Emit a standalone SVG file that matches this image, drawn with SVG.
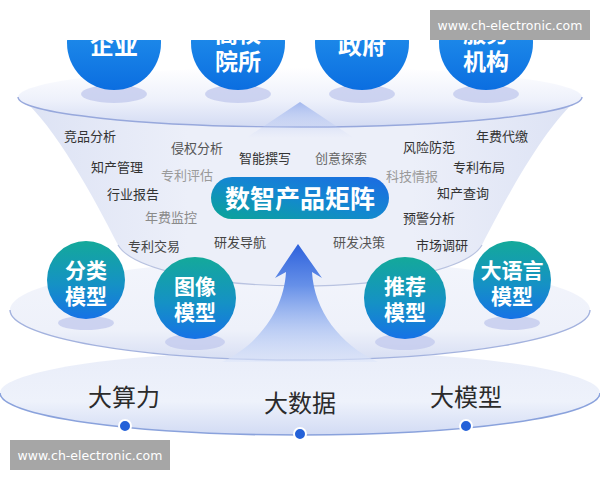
<svg xmlns="http://www.w3.org/2000/svg" width="600" height="480" viewBox="0 0 600 480">
  <defs>
    <linearGradient id="gTopDisc" x1="0" y1="0" x2="0" y2="1">
      <stop offset="0" stop-color="#ffffff"/>
      <stop offset="0.55" stop-color="#eef1fb"/>
      <stop offset="1" stop-color="#d3dbf3"/>
    </linearGradient>
    <linearGradient id="gFunnel" x1="0" y1="0" x2="1" y2="0">
      <stop offset="0" stop-color="#dce2f4"/>
      <stop offset="0.3" stop-color="#eceff9"/>
      <stop offset="0.7" stop-color="#eceff9"/>
      <stop offset="1" stop-color="#dce2f4"/>
    </linearGradient>
    <linearGradient id="gModelDisc" x1="0" y1="0" x2="0" y2="1">
      <stop offset="0" stop-color="#f3f5fc"/>
      <stop offset="0.7" stop-color="#eef1fa"/>
      <stop offset="1" stop-color="#d7def3"/>
    </linearGradient>
    <linearGradient id="gBaseDisc" x1="0" y1="0" x2="0" y2="1">
      <stop offset="0" stop-color="#e9edf9"/>
      <stop offset="0.6" stop-color="#eef2fb"/>
      <stop offset="1" stop-color="#d2dbf4"/>
    </linearGradient>
    <linearGradient id="gBlue" x1="0" y1="0" x2="0" y2="1">
      <stop offset="0" stop-color="#2a9cf0"/>
      <stop offset="1" stop-color="#0b6ee0"/>
    </linearGradient>
    <linearGradient id="gTeal" x1="0" y1="0" x2="0" y2="1">
      <stop offset="0" stop-color="#14a99a"/>
      <stop offset="0.55" stop-color="#1592c4"/>
      <stop offset="1" stop-color="#1672e6"/>
    </linearGradient>
    <linearGradient id="gPill" x1="0" y1="1" x2="1" y2="0">
      <stop offset="0" stop-color="#0aa596"/>
      <stop offset="0.5" stop-color="#1388d0"/>
      <stop offset="1" stop-color="#1c6ae2"/>
    </linearGradient>
    <linearGradient id="gArrow" x1="0" y1="244" x2="0" y2="362" gradientUnits="userSpaceOnUse">
      <stop offset="0" stop-color="#2d61dc"/>
      <stop offset="0.35" stop-color="#6690e8"/>
      <stop offset="1" stop-color="#dfe7fa" stop-opacity="0.6"/>
    </linearGradient>
    <linearGradient id="gChevron" x1="0" y1="0" x2="0" y2="1">
      <stop offset="0" stop-color="#9fb5ee" stop-opacity="0.95"/>
      <stop offset="1" stop-color="#c9d5f5" stop-opacity="0"/>
    </linearGradient>
    <clipPath id="clipTop">
      <rect x="0" y="40" width="600" height="440"/>
    </clipPath>
  </defs>
  <style>
    .lbl { font-family: "Noto Sans CJK SC", "Noto Sans", sans-serif; font-size: 13px; text-anchor: middle; }
    .dk { fill: #333333; }
    .md { fill: #555555; }
    .lt { fill: #9a9a9a; }
    .ctext { font-family: "Noto Sans CJK SC", "Noto Sans", sans-serif; font-weight: 700; fill: #ffffff; text-anchor: middle; }
    .shadow { fill: #c3cbee; opacity: 0.8; }
    .base { font-family: "Noto Sans CJK SC", "Noto Sans", sans-serif; font-size: 24px; fill: #2b2b2b; text-anchor: middle; }
    .dot { fill: #2461d8; stroke: #ffffff; stroke-width: 2; }
    .wm { fill: #a6a6a6; }
    .wmt { font-family: "DejaVu Sans", "Liberation Sans", sans-serif; font-size: 12.5px; fill: #ffffff; text-anchor: middle; }
  </style>

  <rect width="600" height="480" fill="#ffffff"/>

  <!-- base disc -->
  <g id="base-disc">
    <ellipse cx="300" cy="393" rx="300" ry="42" fill="url(#gBaseDisc)"/>
    <path d="M0,393 A300,42 0 0 0 600,393" fill="none" stroke="#8aa2dc" stroke-width="1.6"/>
  </g>

  <!-- model disc -->
  <g id="model-disc">
    <ellipse cx="300" cy="310" rx="290" ry="50" fill="url(#gModelDisc)"/>
    <path d="M10,310 A290,50 0 0 0 590,310" fill="none" stroke="#a3b2de" stroke-width="1.4"/>
  </g>

  <!-- funnel / bowl -->
  <g id="funnel">
    <path d="M20,97 C55,125 95,200 118,245 A184,48 0 0 0 482,245 C505,200 545,125 580,97 A280,30 0 0 1 20,97 Z" fill="url(#gFunnel)"/>
    <path d="M118,245 A184,48 0 0 0 482,245" fill="none" stroke="#b8c2e0" stroke-width="1.2"/>
  </g>

  <!-- top disc -->
  <g id="top-disc">
    <ellipse cx="300" cy="97" rx="282" ry="30" fill="url(#gTopDisc)"/>
    <path d="M18,97 A282,30 0 0 0 582,97" fill="none" stroke="#97a8dc" stroke-width="1.4"/>
    <path d="M300,102 L246,138 L354,138 Z" fill="url(#gChevron)"/>
  </g>

  <!-- connectors: upward arrow -->
  <g id="connectors">
    <path d="M298,244 L322,278 L312,272 C314,310 340,345 378,362 L222,362 C258,345 284,310 286,272 L275,278 Z" fill="url(#gArrow)"/>
  </g>

  <!-- top circles -->
  <g clip-path="url(#clipTop)">
    <g id="node-qiye">
      <ellipse class="shadow" cx="114" cy="94" rx="33" ry="9"/>
      <circle cx="114" cy="43" r="47" fill="url(#gBlue)"/>
      <text class="ctext" x="114" y="54" font-size="24">企业</text>
    </g>
    <g id="node-gaoxiao">
      <ellipse class="shadow" cx="238" cy="94" rx="33" ry="9"/>
      <circle cx="238" cy="43" r="47" fill="url(#gBlue)"/>
      <text class="ctext" x="238" y="42" font-size="23">高校</text>
      <text class="ctext" x="238" y="70" font-size="23">院所</text>
    </g>
    <g id="node-zhengfu">
      <ellipse class="shadow" cx="362" cy="94" rx="33" ry="9"/>
      <circle cx="362" cy="43" r="47" fill="url(#gBlue)"/>
      <text class="ctext" x="362" y="54" font-size="24">政府</text>
    </g>
    <g id="node-fuwu">
      <ellipse class="shadow" cx="486" cy="94" rx="33" ry="9"/>
      <circle cx="486" cy="43" r="47" fill="url(#gBlue)"/>
      <text class="ctext" x="486" y="42" font-size="23">服务</text>
      <text class="ctext" x="486" y="70" font-size="23">机构</text>
    </g>
  </g>

  <!-- feature labels -->
  <g id="labels">
    <text class="lbl dk" x="90" y="140.5">竞品分析</text>
    <text class="lbl md" x="197" y="152.5">侵权分析</text>
    <text class="lbl dk" x="117" y="171.5">知产管理</text>
    <text class="lbl lt" x="187" y="179.5">专利评估</text>
    <text class="lbl dk" x="265" y="162.5">智能撰写</text>
    <text class="lbl dk" x="133" y="198.5">行业报告</text>
    <text class="lbl" x="171" y="221.5" fill="#8a8a8a">年费监控</text>
    <text class="lbl" x="154" y="250.5" fill="#444444">专利交易</text>
    <text class="lbl" x="240" y="246.5" fill="#444444">研发导航</text>
    <text class="lbl dk" x="502" y="140.5">年费代缴</text>
    <text class="lbl dk" x="429" y="151.5">风险防范</text>
    <text class="lbl" x="341" y="162.5" fill="#666666">创意探索</text>
    <text class="lbl dk" x="479" y="171.5">专利布局</text>
    <text class="lbl lt" x="412" y="180.5">科技情报</text>
    <text class="lbl dk" x="463" y="197.5">知产查询</text>
    <text class="lbl dk" x="429" y="222.5">预警分析</text>
    <text class="lbl md" x="359" y="246.5">研发决策</text>
    <text class="lbl dk" x="442" y="249.5">市场调研</text>
  </g>

  <!-- central pill -->
  <g id="node-matrix">
    <rect x="211" y="177" width="178" height="42" rx="21" fill="url(#gPill)"/>
    <text class="ctext" x="300" y="208" font-size="25">数智产品矩阵</text>
  </g>

  <!-- model circles -->
  <g id="node-fenlei">
    <ellipse class="shadow" cx="86" cy="323" rx="28" ry="7"/>
    <circle cx="86" cy="280" r="39" fill="url(#gTeal)"/>
    <text class="ctext" x="86" y="278" font-size="21">分类</text>
    <text class="ctext" x="86" y="304" font-size="21">模型</text>
  </g>
  <g id="node-tuxiang">
    <ellipse class="shadow" cx="195" cy="342" rx="30" ry="8"/>
    <circle cx="195" cy="298" r="41" fill="url(#gTeal)"/>
    <text class="ctext" x="195" y="294" font-size="21">图像</text>
    <text class="ctext" x="195" y="320" font-size="21">模型</text>
  </g>
  <g id="node-tuijian">
    <ellipse class="shadow" cx="405" cy="342" rx="30" ry="8"/>
    <circle cx="405" cy="298" r="41" fill="url(#gTeal)"/>
    <text class="ctext" x="405" y="294" font-size="21">推荐</text>
    <text class="ctext" x="405" y="320" font-size="21">模型</text>
  </g>
  <g id="node-dayuyan">
    <ellipse class="shadow" cx="512" cy="323" rx="28" ry="7"/>
    <circle cx="512" cy="280" r="39" fill="url(#gTeal)"/>
    <text class="ctext" x="512" y="278" font-size="21">大语言</text>
    <text class="ctext" x="512" y="304" font-size="21">模型</text>
  </g>

  <!-- base labels and dots -->
  <g id="node-suanli">
    <text class="base" x="124" y="406">大算力</text>
    <circle class="dot" cx="125" cy="426" r="6"/>
  </g>
  <g id="node-shuju">
    <text class="base" x="300" y="412">大数据</text>
    <circle class="dot" cx="300" cy="434" r="6"/>
  </g>
  <g id="node-moxing">
    <text class="base" x="466" y="406">大模型</text>
    <circle class="dot" cx="466" cy="426" r="6"/>
  </g>

  <!-- top white band and watermarks -->
  <rect x="0" y="0" width="600" height="40" fill="#ffffff"/>
  <g id="watermark-top">
    <rect class="wm" x="430" y="10" width="160" height="30"/>
    <text class="wmt" x="510" y="29.5">www.ch-electronic.com</text>
  </g>
  <g id="watermark-bottom">
    <rect class="wm" x="10" y="440" width="160" height="30"/>
    <text class="wmt" x="90" y="459.5">www.ch-electronic.com</text>
  </g>
</svg>
